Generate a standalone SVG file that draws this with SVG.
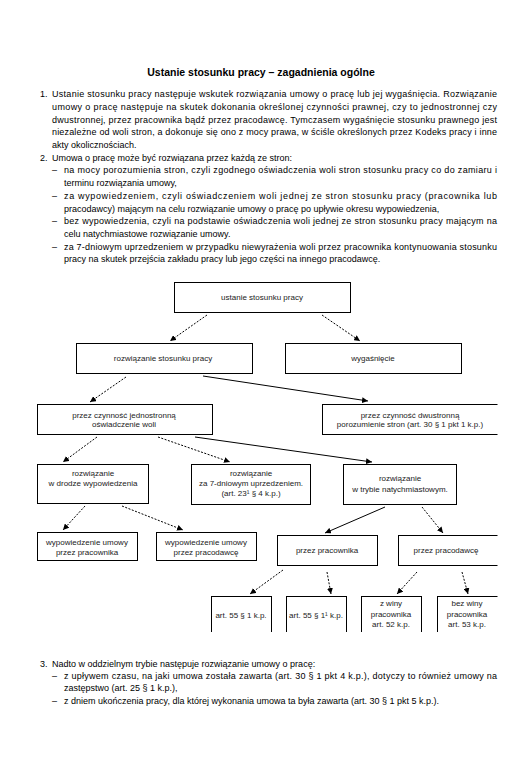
<svg xmlns="http://www.w3.org/2000/svg" width="521" height="767" viewBox="0 0 521 767">
<style>
.t{font-family:"Liberation Sans",Arial,sans-serif;font-size:9px;fill:#000}
.h{font-family:"Liberation Sans",Arial,sans-serif;font-size:10.5px;font-weight:bold;fill:#000}
.n rect{fill:#fff;stroke:#000;stroke-width:1}
.n text{font-family:"Liberation Sans",Arial,sans-serif;font-size:8px;fill:#222;text-anchor:middle}
.c line{stroke:#000;stroke-width:1;marker-end:url(#ah)}
.d{stroke-dasharray:2,1.5}
</style>
<defs>
<marker id="ah" viewBox="0 0 10 10" refX="10" refY="5" markerWidth="6" markerHeight="6" markerUnits="userSpaceOnUse" orient="auto">
<path d="M0,0 L10,5 L0,10 z" fill="#000"/>
</marker>
<clipPath id="clip"><rect x="0" y="270" width="497.5" height="362"/></clipPath>
</defs>
<rect width="521" height="767" fill="#fff"/>

<text class="h" x="261" y="76" text-anchor="middle">Ustanie stosunku pracy – zagadnienia ogólne</text>

<g id="para1">
<text class="t" x="40" y="97.2">1.</text>
<text class="t" x="52" y="97.2" textLength="445" lengthAdjust="spacing">Ustanie stosunku pracy następuje wskutek rozwiązania umowy o pracę lub jej wygaśnięcia. Rozwiązanie</text>
<text class="t" x="52" y="109.9" textLength="445" lengthAdjust="spacing">umowy o pracę następuje na skutek dokonania określonej czynności prawnej, czy to jednostronnej czy</text>
<text class="t" x="52" y="122.6" textLength="445" lengthAdjust="spacing">dwustronnej, przez pracownika bądź przez pracodawcę. Tymczasem wygaśnięcie stosunku prawnego jest</text>
<text class="t" x="52" y="135.3" textLength="445" lengthAdjust="spacing">niezależne od woli stron, a dokonuje się ono z mocy prawa, w ściśle określonych przez Kodeks pracy i inne</text>
<text class="t" x="52" y="148">akty okolicznościach.</text>
<text class="t" x="40" y="160.7">2.</text>
<text class="t" x="52" y="160.7">Umowa o pracę może być rozwiązana przez każdą ze stron:</text>
<text class="t" x="52" y="173.4">–</text>
<text class="t" x="64" y="173.4" textLength="433" lengthAdjust="spacing">na mocy porozumienia stron, czyli zgodnego oświadczenia woli stron stosunku pracy co do zamiaru i</text>
<text class="t" x="64" y="186.1">terminu rozwiązania umowy,</text>
<text class="t" x="52" y="198.8">–</text>
<text class="t" x="64" y="198.8" textLength="433" lengthAdjust="spacing">za wypowiedzeniem, czyli oświadczeniem woli jednej ze stron stosunku pracy (pracownika lub</text>
<text class="t" x="64" y="211.5">pracodawcy) mającym na celu rozwiązanie umowy o pracę po upływie okresu wypowiedzenia,</text>
<text class="t" x="52" y="224.2">–</text>
<text class="t" x="64" y="224.2" textLength="433" lengthAdjust="spacing">bez wypowiedzenia, czyli na podstawie oświadczenia woli jednej ze stron stosunku pracy mającym na</text>
<text class="t" x="64" y="236.9">celu natychmiastowe rozwiązanie umowy.</text>
<text class="t" x="52" y="249.6">–</text>
<text class="t" x="64" y="249.6" textLength="433" lengthAdjust="spacing">za 7-dniowym uprzedzeniem w przypadku niewyrażenia woli przez pracownika kontynuowania stosunku</text>
<text class="t" x="64" y="262.3">pracy na skutek przejścia zakładu pracy lub jego części na innego pracodawcę.</text>
</g>

<g clip-path="url(#clip)">
<g class="c" id="connectors">
<line class="d" x1="207" y1="315" x2="170" y2="341"/>
<line class="d" x1="322" y1="315" x2="360" y2="341"/>
<line class="d" x1="126" y1="377" x2="90" y2="402"/>
<line x1="203" y1="376" x2="368" y2="401"/>
<line class="d" x1="97" y1="437" x2="63" y2="462"/>
<line class="d" x1="158" y1="437" x2="230" y2="462"/>
<line x1="195" y1="437" x2="372" y2="462"/>
<line class="d" x1="85" y1="506" x2="63" y2="530"/>
<line class="d" x1="122" y1="506" x2="183" y2="530"/>
<line x1="385" y1="507" x2="325" y2="533"/>
<line class="d" x1="422" y1="507" x2="443" y2="533"/>
<line class="d" x1="283" y1="570" x2="250" y2="594"/>
<line class="d" x1="327" y1="572" x2="331" y2="594"/>
<line class="d" x1="417" y1="572" x2="397" y2="594"/>
<line class="d" x1="462" y1="572" x2="468" y2="594"/>
</g>

<g class="n" id="n1"><rect x="174.5" y="282.5" width="176" height="30"/><text x="262" y="300">ustanie stosunku pracy</text></g>
<g class="n" id="n2"><rect x="76.5" y="343.5" width="176" height="30"/><text x="163" y="361">rozwiązanie stosunku pracy</text></g>
<g class="n" id="n3"><rect x="285.5" y="343.5" width="176" height="30"/><text x="373" y="361">wygaśnięcie</text></g>
<g class="n" id="n4"><rect x="37.5" y="404.5" width="175" height="30"/><text x="124" y="417.5">przez czynność jednostronną</text><text x="124" y="427">oświadczenie woli</text></g>
<g class="n" id="n5"><rect x="322.5" y="404.5" width="178" height="30"/><text x="410" y="417.5">przez czynność dwustronną</text><text x="410" y="427">porozumienie stron (art. 30 § 1 pkt 1 k.p.)</text></g>
<g class="n" id="n6"><rect x="37.5" y="464.5" width="111" height="39"/><text x="93" y="475.5">rozwiązanie</text><text x="93" y="485.5">w drodze wypowiedzenia</text></g>
<g class="n" id="n7"><rect x="191.5" y="464.5" width="119" height="40"/><text x="251" y="475.5">rozwiązanie</text><text x="251" y="485.5">za 7-dniowym uprzedzeniem.</text><text x="251" y="495.5">(art. 23¹ § 4 k.p.)</text></g>
<g class="n" id="n8"><rect x="343.5" y="464.5" width="113" height="40"/><text x="400" y="481">rozwiązanie</text><text x="400" y="492">w trybie natychmiastowym.</text></g>
<g class="n" id="n9"><rect x="37.5" y="532.5" width="100" height="28"/><text x="87" y="545">wypowiedzenie umowy</text><text x="87" y="554.5">przez pracownika</text></g>
<g class="n" id="n10"><rect x="156.5" y="532.5" width="100" height="28"/><text x="206" y="545">wypowiedzenie umowy</text><text x="206" y="554.5">przez pracodawcę</text></g>
<g class="n" id="n11"><rect x="277.5" y="535.5" width="100" height="30"/><text x="327" y="553">przez pracownika</text></g>
<g class="n" id="n12"><rect x="398.5" y="535.5" width="101" height="30"/><text x="446" y="553">przez pracodawcę</text></g>
<g class="n" id="n13"><rect x="211.5" y="596.5" width="60" height="40"/><text x="241" y="618">art. 55 § 1 k.p.</text></g>
<g class="n" id="n14"><rect x="286.5" y="596.5" width="60" height="40"/><text x="316" y="618">art. 55 § 1¹ k.p.</text></g>
<g class="n" id="n15"><rect x="361.5" y="596.5" width="60" height="40"/><text x="391" y="606">z winy</text><text x="391" y="616.5">pracownika</text><text x="391" y="627">art. 52 k.p.</text></g>
<g class="n" id="n16"><rect x="437.5" y="596.5" width="61" height="40"/><text x="467" y="606">bez winy</text><text x="467" y="616.5">pracownika</text><text x="467" y="627">art. 53 k.p.</text></g>
</g>

<g id="para3">
<text class="t" x="40" y="667">3.</text>
<text class="t" x="52" y="667">Nadto w oddzielnym trybie następuje rozwiązanie umowy o pracę:</text>
<text class="t" x="52" y="679.4">–</text>
<text class="t" x="64" y="679.4" textLength="433" lengthAdjust="spacing">z upływem czasu, na jaki umowa została zawarta (art. 30 § 1 pkt 4 k.p.), dotyczy to również umowy na</text>
<text class="t" x="64" y="691.3">zastępstwo (art. 25 § 1 k.p.),</text>
<text class="t" x="52" y="703.6">–</text>
<text class="t" x="64" y="703.6">z dniem ukończenia pracy, dla której wykonania umowa ta była zawarta (art. 30 § 1 pkt 5 k.p.).</text>
</g>
</svg>
